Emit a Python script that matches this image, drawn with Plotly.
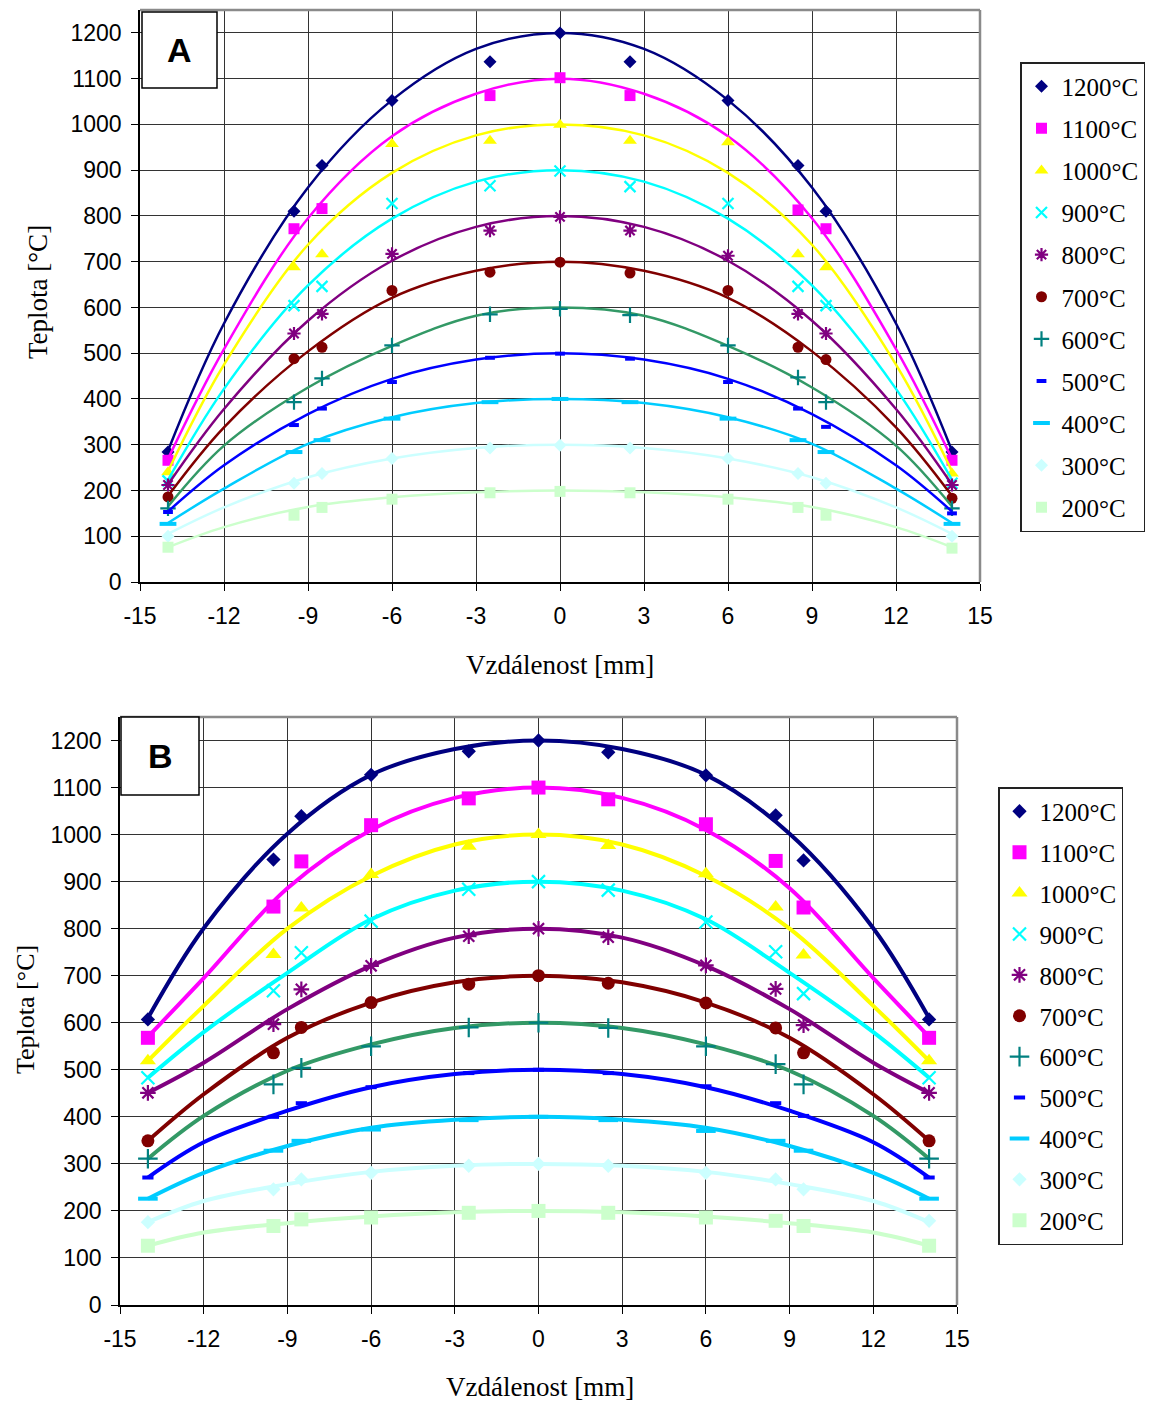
import plotly.graph_objects as go

W, H = 1153, 1403
OFF = 8                      # the page places the figure 8 px from the top-left corner
FW, FH = W - OFF, H - OFF    # figure size that fits the window exactly

# ---------------- data ----------------
series_names = ["1200°C", "1100°C", "1000°C", "900°C", "800°C", "700°C",
                "600°C", "500°C", "400°C", "300°C", "200°C"]

# measurement positions [mm]
meas_x = [-14, -9.5, -8.5, -6, -2.5, 0, 2.5, 6, 8.5, 9.5, 14]
# positions where the fitted curves were read
fit_x = [-14, -12, -9, -6, -3, 0, 3, 6, 9, 12, 14]

# ---- panel A: measured points ----
a_meas_1200 = [284, 810, 910, 1052, 1137, 1200, 1137, 1052, 910, 810, 284]
a_meas_1100 = [266, 772, 816, None, 1063, 1102, 1063, None, 813, 772, 266]
a_meas_1000 = [240, 688, 716, 957, 964, 999, 964, 961, 716, 688, 237]
a_meas_900 = [221, 604, 646, 827, 866, 898, 864, 827, 646, 604, 216]
a_meas_800 = [212, 543, 586, 717, 768, 798, 768, 713, 586, 543, 212]
a_meas_700 = [186, 488, 513, 637, 677, 699, 675, 637, 513, 486, 183]
a_meas_600 = [161, 393, 445, 517, 585, 597, 583, 517, 447, 393, 161]
a_meas_500 = [153, 343, 379, 437, 490, 499, 488, 437, 379, 339, 150]
a_meas_400 = [127, 284, 310, 357, 393, 400, 393, 357, 310, 284, 127]
a_meas_300 = [100, 216, 237, 270, 293, 299, 293, 270, 237, 216, 100]
a_meas_200 = [76, 146, 163, 181, 195, 198, 195, 181, 163, 146, 74]

# ---- panel A: fitted curves ----
a_fit_1200 = [287, 565, 862, 1053, 1165, 1200, 1165, 1053, 862, 565, 287]
a_fit_1100 = [269, 509, 795, 974, 1067, 1100, 1067, 974, 795, 509, 269]
a_fit_1000 = [242, 475, 737, 894, 976, 1000, 976, 894, 737, 475, 242]
a_fit_900 = [223, 422, 648, 794, 875, 900, 875, 794, 648, 422, 223]
a_fit_800 = [213, 378, 571, 702, 776, 800, 776, 702, 571, 378, 213]
a_fit_700 = [188, 338, 504, 621, 680, 700, 680, 621, 504, 338, 188]
a_fit_600 = [165, 298, 425, 516, 582, 600, 582, 516, 425, 298, 165]
a_fit_500 = [154, 255, 367, 444, 486, 500, 486, 444, 367, 255, 154]
a_fit_400 = [129, 204, 302, 360, 391, 400, 391, 360, 302, 204, 129]
a_fit_300 = [105, 163, 229, 270, 293, 300, 293, 270, 229, 163, 105]
a_fit_200 = [76, 120, 164, 185, 196, 200, 196, 185, 164, 120, 76]

# ---- panel B: measured points ----
b_meas_1200 = [607, 947, 1039, 1127, 1177, 1200, 1175, 1126, 1041, 945, 607]
b_meas_1100 = [568, 847, 943, 1020, 1077, 1100, 1075, 1022, 944, 845, 568]
b_meas_1000 = [519, 745, 844, 915, 975, 1000, 977, 917, 846, 744, 519]
b_meas_900 = [483, 668, 749, 816, 884, 900, 882, 814, 751, 662, 483]
b_meas_800 = [451, 597, 671, 721, 784, 800, 782, 722, 672, 595, 451]
b_meas_700 = [349, 536, 590, 643, 682, 700, 684, 642, 589, 536, 349]
b_meas_600 = [311, 469, 504, 550, 590, 600, 589, 550, 512, 469, 311]
b_meas_500 = [271, 400, 429, 463, 493, 500, 493, 465, 429, 402, 271]
b_meas_400 = [226, 328, 349, 373, 393, 400, 393, 370, 349, 328, 226]
b_meas_300 = [176, 246, 267, 281, 296, 300, 296, 281, 267, 246, 179]
b_meas_200 = [126, 168, 182, 186, 196, 200, 196, 186, 179, 168, 126]

# ---- panel B: fitted curves ----
b_fit_1200 = [610, 801, 1002, 1127, 1182, 1200, 1182, 1127, 1002, 801, 610]
b_fit_1100 = [570, 695, 886, 1010, 1078, 1100, 1078, 1010, 886, 695, 570]
b_fit_1000 = [519, 636, 800, 912, 979, 1000, 979, 912, 800, 636, 519]
b_fit_900 = [483, 580, 706, 820, 881, 900, 881, 820, 706, 580, 483]
b_fit_800 = [451, 515, 629, 721, 781, 800, 781, 721, 629, 515, 451]
b_fit_700 = [349, 448, 568, 643, 686, 700, 686, 643, 568, 448, 349]
b_fit_600 = [311, 402, 498, 554, 589, 600, 589, 554, 498, 402, 311]
b_fit_500 = [271, 346, 413, 463, 491, 500, 491, 463, 413, 346, 271]
b_fit_400 = [226, 281, 338, 377, 394, 400, 394, 377, 338, 281, 226]
b_fit_300 = [176, 221, 257, 283, 296, 300, 296, 283, 257, 221, 176]
b_fit_200 = [126, 154, 174, 188, 197, 200, 197, 188, 174, 154, 126]

a_meas = [a_meas_1200, a_meas_1100, a_meas_1000, a_meas_900, a_meas_800, a_meas_700,
          a_meas_600, a_meas_500, a_meas_400, a_meas_300, a_meas_200]
a_fit = [a_fit_1200, a_fit_1100, a_fit_1000, a_fit_900, a_fit_800, a_fit_700,
         a_fit_600, a_fit_500, a_fit_400, a_fit_300, a_fit_200]
b_meas = [b_meas_1200, b_meas_1100, b_meas_1000, b_meas_900, b_meas_800, b_meas_700,
          b_meas_600, b_meas_500, b_meas_400, b_meas_300, b_meas_200]
b_fit = [b_fit_1200, b_fit_1100, b_fit_1000, b_fit_900, b_fit_800, b_fit_700,
         b_fit_600, b_fit_500, b_fit_400, b_fit_300, b_fit_200]

x_tick_vals = [-15, -12, -9, -6, -3, 0, 3, 6, 9, 12, 15]
x_tick_text = ["-15", "-12", "-9", "-6", "-3", "0", "3", "6", "9", "12", "15"]
y_tick_vals = [0, 100, 200, 300, 400, 500, 600, 700, 800, 900, 1000, 1100, 1200]

# ---------------- styles ----------------
marker_colors = ["#000080", "#FF00FF", "#FFFF00", "#00FFFF", "#800080", "#800000",
                 "#008080", "#0000FF", "#00CCFF", "#CCFFFF", "#CCFFCC"]
line_colors = ["#000080", "#FF00FF", "#FFFF00", "#00FFFF", "#800080", "#800000",
               "#339966", "#0000FF", "#00CCFF", "#CCFFFF", "#CCFFCC"]
symbols = ["diamond", "square", "triangle-up", "x-thin", "asterisk", "circle",
           "cross-thin", "line-ew", "line-ew", "diamond", "square"]
line_syms = {"x-thin", "asterisk", "cross-thin", "line-ew"}
size_a = [10, 11, 12, 11, 11, 11, 11, 7, 12, 10, 11]
size_b = [11, 14, 14, 13, 13, 13, 14, 8, 14, 11, 14]

SANS = "Liberation Sans, Arial, sans-serif"
SERIF = "Liberation Serif, Times New Roman, serif"


def px_x(p):
    return (p - OFF) / FW


def px_y(p):
    return 1 - (p - OFF) / FH


fig = go.Figure()


def add_panel(meas, fit, xa, ya, legend, sizes, lw, grp):
    for i, name in enumerate(series_names):
        g = f"{grp}{i}"
        fig.add_trace(go.Scatter(
            x=fit_x, y=fit[i], mode="lines", xaxis=xa, yaxis=ya,
            line=dict(color=line_colors[i], width=lw, shape="spline", smoothing=1.0),
            showlegend=False, legend=legend, legendgroup=g, hoverinfo="skip"))
        sym = symbols[i]
        mk = dict(symbol=sym, size=sizes[i], color=marker_colors[i])
        if sym in line_syms:
            mk["line"] = dict(color=marker_colors[i], width=4 if sym == "line-ew" else 2.2)
        fig.add_trace(go.Scatter(
            x=meas_x, y=meas[i], mode="markers", xaxis=xa, yaxis=ya, name=name,
            marker=mk, legend=legend, legendgroup=g, showlegend=True))


add_panel(a_meas, a_fit, "x", "y", "legend", size_a, 2.5, "A")
add_panel(b_meas, b_fit, "x2", "y2", "legend2", size_b, 4, "B")

xaxis_common = dict(range=[-15, 15], tickvals=x_tick_vals, ticktext=x_tick_text,
                    showgrid=True, gridcolor="#333333", gridwidth=1, zeroline=False,
                    showline=True, linecolor="black", linewidth=1.5,
                    ticks="outside", ticklen=7, tickcolor="black", tickwidth=1,
                    tickfont=dict(family=SANS, size=23, color="black"),
                    ticklabelstandoff=6, fixedrange=True, automargin=False)
yaxis_common = dict(range=[0, 1250], tickvals=y_tick_vals,
                    showgrid=True, gridcolor="#333333", gridwidth=1, zeroline=False,
                    showline=True, linecolor="black", linewidth=1.5,
                    ticks="outside", ticklen=7, tickcolor="black", tickwidth=1,
                    tickfont=dict(family=SANS, size=23, color="black"),
                    ticklabelstandoff=5, fixedrange=True, automargin=False)

legend_common = dict(xanchor="left", yanchor="top", bgcolor="white",
                     bordercolor="#222222", borderwidth=1.5,
                     font=dict(family=SERIF, size=25, color="black"),
                     traceorder="grouped", itemclick=False)

fig.update_layout(
    width=FW, height=FH,
    margin=dict(l=0, r=0, t=0, b=0, autoexpand=False),
    paper_bgcolor="white", plot_bgcolor="white",
    showlegend=True,
    xaxis=dict(domain=[px_x(140), px_x(980)], anchor="y", **xaxis_common),
    yaxis=dict(domain=[px_y(582), px_y(10)], anchor="x", **yaxis_common),
    xaxis2=dict(domain=[px_x(120), px_x(957)], anchor="y2", **xaxis_common),
    yaxis2=dict(domain=[px_y(1305), px_y(717)], anchor="x2", **yaxis_common),
    legend=dict(x=px_x(1020), y=px_y(62), tracegroupgap=6.6, **legend_common),
    legend2=dict(x=px_x(998), y=px_y(787), tracegroupgap=5.4, **legend_common),
)

shapes = []
for xr, yr in (("x", "y"), ("x2", "y2")):
    shapes.append(dict(type="line", xref=f"{xr} domain", yref=f"{yr} domain",
                       x0=0, x1=1, y0=1, y1=1, line=dict(color="#8a8a8a", width=2.5)))
    shapes.append(dict(type="line", xref=f"{xr} domain", yref=f"{yr} domain",
                       x0=1, x1=1, y0=0, y1=1, line=dict(color="#8a8a8a", width=2.5)))
# panel label boxes
for (x0, y0, x1, y1) in ((142, 12, 217, 88), (121, 717, 199, 795)):
    shapes.append(dict(type="rect", xref="paper", yref="paper",
                       x0=px_x(x0), x1=px_x(x1), y0=px_y(y1), y1=px_y(y0),
                       line=dict(color="black", width=1.5), fillcolor="white", layer="above"))
fig.update_layout(shapes=shapes)

annotations = [
    dict(text="<b>A</b>", x=px_x(179.5), y=px_y(50), font=dict(family=SANS, size=34, color="black")),
    dict(text="<b>B</b>", x=px_x(160), y=px_y(756), font=dict(family=SANS, size=34, color="black")),
    dict(text="Teplota [°C]", x=px_x(38), y=px_y(292), textangle=-90,
         font=dict(family=SERIF, size=27, color="black")),
    dict(text="Vzdálenost [mm]", x=px_x(560), y=px_y(665),
         font=dict(family=SERIF, size=27, color="black")),
    dict(text="Teplota [°C]", x=px_x(25), y=px_y(1010), textangle=-90,
         font=dict(family=SERIF, size=26, color="black")),
    dict(text="Vzdálenost [mm]", x=px_x(540), y=px_y(1387),
         font=dict(family=SERIF, size=27, color="black")),
]
for a in annotations:
    a.update(xref="paper", yref="paper", showarrow=False, xanchor="center", yanchor="middle")
fig.update_layout(annotations=annotations)

fig.write_html("out.html")
